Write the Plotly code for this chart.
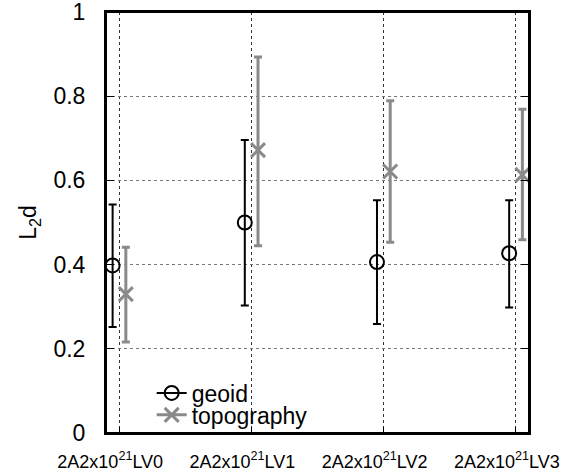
import plotly.graph_objects as go

categories = ["2A2x10<sup>21</sup>LV0", "2A2x10<sup>21</sup>LV1", "2A2x10<sup>21</sup>LV2", "2A2x10<sup>21</sup>LV3"]
geoid_val = [0.398, 0.500, 0.406, 0.427]
geoid_hi = [0.543, 0.696, 0.553, 0.553]
geoid_lo = [0.252, 0.303, 0.259, 0.298]
topo_val = [0.330, 0.672, 0.621, 0.613]
topo_hi = [0.441, 0.893, 0.789, 0.769]
topo_lo = [0.216, 0.445, 0.453, 0.459]

offset = 0.05
idx = list(range(len(categories)))
gx = [i - offset for i in idx]
tx = [i + offset for i in idx]

BLACK = "#000000"
GRAY = "#8a8a8a"
FONT = "Liberation Sans, Arial, Helvetica, sans-serif"

fig = go.Figure()
fig.add_trace(go.Scatter(
    x=gx, y=geoid_val, mode="markers", showlegend=False,
    marker=dict(symbol="circle-open", size=14, color=BLACK, line=dict(width=2, color=BLACK)),
    error_y=dict(type="data", symmetric=False,
                 array=[h - v for h, v in zip(geoid_hi, geoid_val)],
                 arrayminus=[v - l for v, l in zip(geoid_val, geoid_lo)],
                 color=BLACK, thickness=2, width=4),
))
fig.add_trace(go.Scatter(
    x=tx, y=topo_val, mode="markers", showlegend=False,
    marker=dict(symbol="x-thin-open", size=14, color=GRAY, line=dict(width=3, color=GRAY)),
    error_y=dict(type="data", symmetric=False,
                 array=[h - v for h, v in zip(topo_hi, topo_val)],
                 arrayminus=[v - l for v, l in zip(topo_val, topo_lo)],
                 color=GRAY, thickness=3, width=4),
))
# legend entries (one per legend box so the row spacing can match)
fig.add_trace(go.Scatter(
    x=[None], y=[None], mode="lines+markers", name="geoid", legend="legend",
    line=dict(color=BLACK, width=2),
    marker=dict(symbol="circle-open", size=14, color=BLACK, line=dict(width=2, color=BLACK)),
))
fig.add_trace(go.Scatter(
    x=[None], y=[None], mode="lines+markers", name="topography", legend="legend2",
    line=dict(color=GRAY, width=3),
    marker=dict(symbol="x-thin-open", size=14, color=GRAY, line=dict(width=3, color=GRAY)),
))

leg_common = dict(xanchor="left", yanchor="middle", bgcolor="rgba(0,0,0,0)",
                  font=dict(size=23, family=FONT, color=BLACK), itemsizing="trace")

fig.update_layout(
    width=562, height=472,
    margin=dict(l=106, r=33, t=12, b=39),
    paper_bgcolor="white", plot_bgcolor="white",
    font=dict(family=FONT, color=BLACK, size=23),
    legend=dict(x=0.108, y=0.095, **leg_common),
    legend2=dict(x=0.108, y=0.043, **leg_common),
    shapes=[dict(type="rect", xref="paper", yref="paper", x0=0, x1=1, y0=0, y1=1,
                 line=dict(color=BLACK, width=2), fillcolor="rgba(0,0,0,0)", layer="above")],
)
fig.update_xaxes(
    range=[-0.1, 3.1], tickmode="array", tickvals=idx, ticktext=categories,
    tickfont=dict(size=18, family=FONT), automargin=False,
    showline=True, linecolor=BLACK, linewidth=2, mirror=True,
    ticks="inside", ticklen=6, tickcolor=BLACK, tickwidth=1,
    showgrid=True, gridcolor="#333333", griddash="dot", gridwidth=1,
    zeroline=False, ticklabeloverflow="allow", ticklabelshift=-9,
    ticklabelstandoff=11,
)
fig.update_yaxes(
    range=[0, 1], tickmode="array", tickvals=[0, 0.2, 0.4, 0.6, 0.8, 1],
    ticktext=["0", "0.2", "0.4", "0.6", "0.8", "1"],
    tickfont=dict(size=23, family=FONT), automargin=False,
    showline=True, linecolor=BLACK, linewidth=2, mirror="allticks",
    ticks="inside", ticklen=8, tickcolor=BLACK, tickwidth=1,
    showgrid=True, gridcolor="#777777", griddash="dot", gridwidth=1,
    zeroline=False, ticklabeloverflow="allow",
    title=dict(text="L<sub>2</sub>d", font=dict(size=23, family=FONT), standoff=10),
    ticklabelstandoff=14,
)

fig.write_html("out.html")
